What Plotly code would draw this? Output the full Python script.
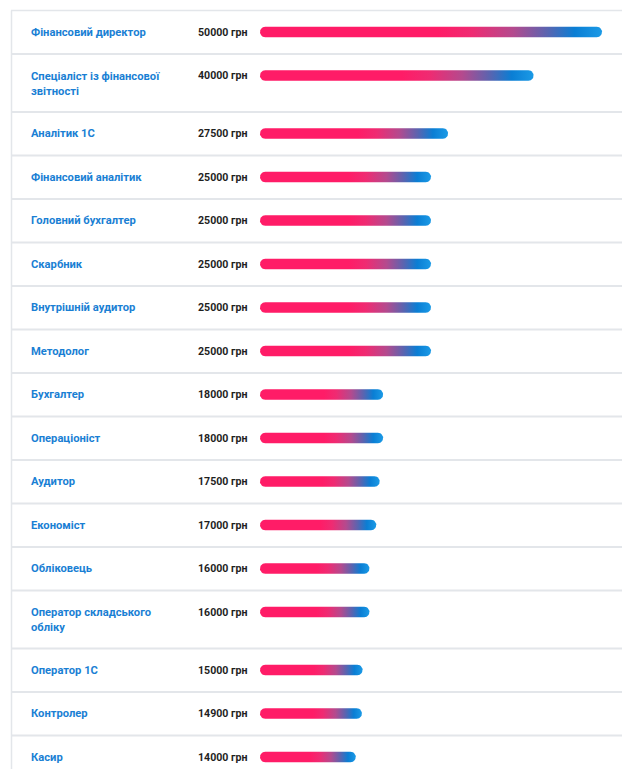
import plotly.graph_objects as go
import numpy as np

# ---------------- data ----------------
professions = [
    "Фінансовий директор",
    "Спеціаліст із фінансової<br>звітності",
    "Аналітик 1С",
    "Фінансовий аналітик",
    "Головний бухгалтер",
    "Скарбник",
    "Внутрішній аудитор",
    "Методолог",
    "Бухгалтер",
    "Операціоніст",
    "Аудитор",
    "Економіст",
    "Обліковець",
    "Оператор складського<br>обліку",
    "Оператор 1С",
    "Контролер",
    "Касир",
]
salaries = [50000, 40000, 27500, 25000, 25000, 25000, 25000, 25000,
            18000, 18000, 17500, 17000, 16000, 16000, 15000, 14900, 14000]
currency = "грн"

# ---------------- layout constants ----------------
W, H = 622, 769
BAR_X0_PX = 260.0
PX_PER_UNIT = 342.0 / 50000.0
X_RANGE = [-BAR_X0_PX / PX_PER_UNIT, (W - BAR_X0_PX) / PX_PER_UNIT]
TABLE_TOP = 10.5
ROW_H_SINGLE = 43.5
ROW_H_DOUBLE = 58.0
LINE_GAP = 16.0
BAR_H = 10.5
BAR_R_PX = BAR_H / 2

NAME_COLOR = "#1a7fd4"
VALUE_COLOR = "#1f1f1f"
GRID_COLOR = "#e3e6ea"
FONT = "Roboto, Liberation Sans, Arial, sans-serif"

gradient = [
    [0.0, "#ff1c67"],
    [0.52, "#ff1c67"],
    [0.62, "#ef2b72"],
    [0.74, "#b44a8e"],
    [0.84, "#5a64b0"],
    [0.92, "#0a7ed4"],
    [1.0, "#1b9ae6"],
]

fig = go.Figure()
shapes = []
annotations = []


def stadium(x1, yc, n=14):
    rx = BAR_R_PX / PX_PER_UNIT
    ry = BAR_R_PX
    xs, ys = [], []
    for t in np.linspace(-np.pi / 2, np.pi / 2, n):
        xs.append(x1 - rx + rx * np.cos(t))
        ys.append(yc + ry * np.sin(t))
    for t in np.linspace(np.pi / 2, 3 * np.pi / 2, n):
        xs.append(rx + rx * np.cos(t))
        ys.append(yc + ry * np.sin(t))
    xs.append(xs[0])
    ys.append(ys[0])
    return xs, ys


top = TABLE_TOP
row_tops = []
for name, val in zip(professions, salaries):
    lines = name.count("<br>") + 1
    rh = ROW_H_SINGLE if lines == 1 else ROW_H_DOUBLE
    row_tops.append(top)
    line1 = top + 21.5
    xs, ys = stadium(val, line1)
    fig.add_trace(go.Scatter(
        x=xs, y=ys, mode="lines", fill="toself",
        line=dict(width=0, color="rgba(0,0,0,0)"),
        fillgradient=dict(type="horizontal", colorscale=gradient),
        hoverinfo="skip", showlegend=False,
    ))
    annotations.append(dict(
        xref="paper", yref="y", x=29 / W, y=line1 + (lines - 1) * LINE_GAP / 2,
        text=name, showarrow=False, xanchor="left", yanchor="middle", align="left",
        font=dict(family=FONT, size=11.2, color=NAME_COLOR, weight="bold"),
    ))
    annotations.append(dict(
        xref="paper", yref="y", x=196 / W, y=line1,
        text=f"{val} {currency}", showarrow=False, xanchor="left", yanchor="middle",
        font=dict(family=FONT, size=10.6, color=VALUE_COLOR, weight="bold"),
    ))
    top += rh
row_tops.append(top)

for i, yt in enumerate(row_tops):
    shapes.append(dict(type="line", xref="paper", yref="y",
                       x0=11 / W, x1=1, y0=yt, y1=yt,
                       line=dict(color=GRID_COLOR, width=2 if i > 0 else 1.5)))
shapes.append(dict(type="line", xref="paper", yref="y",
                   x0=11.5 / W, x1=11.5 / W, y0=row_tops[0], y1=H + 5,
                   line=dict(color=GRID_COLOR, width=1.5)))

fig.update_layout(
    width=W, height=H,
    margin=dict(l=0, r=0, t=0, b=0),
    paper_bgcolor="white", plot_bgcolor="white",
    xaxis=dict(range=X_RANGE, visible=False, fixedrange=True),
    yaxis=dict(range=[H, 0], visible=False, fixedrange=True),
    shapes=shapes, annotations=annotations,
    showlegend=False,
)

fig.write_html("out.html")
